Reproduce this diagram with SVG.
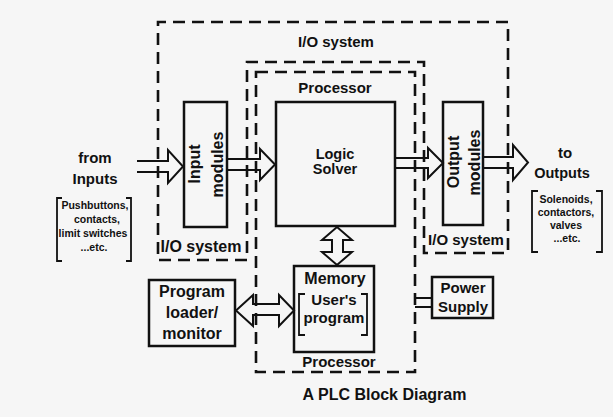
<svg xmlns="http://www.w3.org/2000/svg" width="613" height="417" viewBox="0 0 613 417">
<style>
text{font-family:"Liberation Sans",Arial,sans-serif;font-weight:bold;fill:#111;text-anchor:middle}
.box{fill:none;stroke:#111;stroke-width:2.5}
.dash{fill:none;stroke:#111;stroke-width:2.6;stroke-dasharray:12 7}
.arr{fill:none;stroke:#111;stroke-width:2;stroke-linejoin:miter}
.brk{fill:none;stroke:#111;stroke-width:1.8}
.lbl{font-size:15px}
.big{font-size:16px}
.sm{font-size:10.5px}
.title{font-size:16px}
.out{font-size:14.5px}
.lg{font-size:14.5px}
</style>
<rect width="613" height="417" fill="#f6f6f6"/>
<g id="io-system">
<path class="dash" d="M247,260 L158,260 L158,22 L508,22 L508,253 L424,253 L424,62 L247,62 Z"/>
<text class="lbl" x="336" y="47">I/O system</text>
<text class="big" x="201" y="252">I/O system</text>
<text class="lbl" x="466" y="245">I/O system</text>
</g>
<g id="processor">
<path class="dash" d="M256,72 L415,72 L415,372 L256,372 Z"/>
<text class="lbl" x="335" y="93">Processor</text>
<text class="lbl" x="339" y="367">Processor</text>
</g>
<g id="input-modules">
<rect class="box" x="184" y="102" width="43" height="125"/>
<text class="big" transform="translate(200,164) rotate(-90)">Input</text>
<text class="big" transform="translate(223,164.5) rotate(-90)">modules</text>
</g>
<g id="logic-solver">
<rect class="box" x="276" y="102" width="119" height="124"/>
<text class="lg" x="335" y="159">Logic</text>
<text class="lg" x="335" y="174">Solver</text>
</g>
<g id="output-modules">
<rect class="box" x="443" y="102" width="40" height="123"/>
<text class="big" transform="translate(459,162) rotate(-90)">Output</text>
<text class="big" transform="translate(480,162.5) rotate(-90)">modules</text>
</g>
<g id="memory">
<rect class="box" x="294" y="266" width="80" height="86"/>
<text class="big" x="335" y="284">Memory</text>
<path class="brk" d="M305,294 L299,294 L299,335 L305,335 M361,294 L367,294 L367,335 L361,335"/>
<text class="lbl" x="334" y="305">User's</text>
<text class="lbl" x="334" y="323">program</text>
</g>
<g id="program-loader">
<rect class="box" x="149" y="280" width="86" height="66"/>
<text class="big" x="192" y="297">Program</text>
<text class="big" x="192" y="318">loader/</text>
<text class="big" x="192" y="339">monitor</text>
</g>
<g id="power-supply">
<rect class="box" x="432" y="277" width="61" height="41"/>
<text class="lbl" x="463" y="293">Power</text>
<text class="lbl" x="463" y="312">Supply</text>
</g>
<g id="from-inputs">
<text class="lbl" x="95" y="163">from</text>
<text class="lbl" x="95" y="184">Inputs</text>
<path class="brk" d="M62,198 L57,198 L57,261 L62,261 M126,198 L131,198 L131,261 L126,261"/>
<text class="sm" x="95" y="209">Pushbuttons,</text>
<text class="sm" x="97" y="223">contacts,</text>
<text class="sm" x="93" y="237">limit switches</text>
<text class="sm" x="94" y="251">...etc.</text>
</g>
<g id="to-outputs">
<text class="lbl" x="565" y="158">to</text>
<text class="out" x="562" y="178">Outputs</text>
<path class="brk" d="M538,191 L532,191 L532,252 L538,252 M596,191 L602,191 L602,252 L596,252"/>
<text class="sm" x="566" y="203">Solenoids,</text>
<text class="sm" x="566" y="216">contactors,</text>
<text class="sm" x="566" y="229">valves</text>
<text class="sm" x="567" y="242">...etc.</text>
</g>
<g id="connectors">
<path class="arr" d="M137,161 L168,161 L168,150 L183,166.5 L168,183 L168,172 L137,172"/>
<path class="arr" d="M227,159 L260,159 L260,149 L275,164.5 L260,180 L260,170 L227,170"/>
<path class="arr" d="M395,158 L428,158 L428,148 L443,163 L428,178 L428,168 L395,168"/>
<path class="arr" d="M483,157 L513,157 L513,145 L528,162.5 L513,180 L513,168 L483,168"/>
<path class="arr" d="M332,240 L322,240 L337,227 L352,240 L343,240 L343,252 L352,252 L337,265 L322,252 L332,252 Z"/>
<path class="arr" d="M253,304 L253,295 L236,310.5 L253,326 L253,315 L279,315 L279,326 L294,310.5 L279,295 L279,304 Z"/>
<path class="arr" d="M415,298 L432,298 M415,307 L432,307"/>
</g>
<text class="title" x="384.5" y="400">A PLC Block Diagram</text>
</svg>
